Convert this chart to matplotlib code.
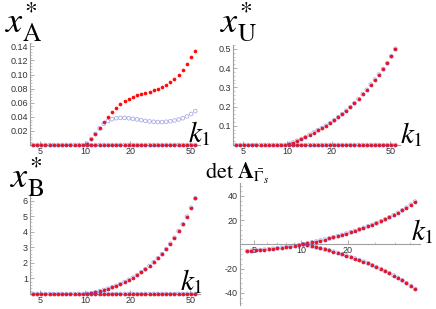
import matplotlib
matplotlib.use("Agg")
import matplotlib.pyplot as plt
from matplotlib.ticker import FixedLocator, NullFormatter, AutoMinorLocator, LogLocator

plt.rcParams["mathtext.fontset"] = "stix"
plt.rcParams["font.family"] = ["Liberation Sans", "DejaVu Sans"]

W, H = 436, 309

# k1 grid (log spaced sweep)
k1 = [4.50, 4.80, 5.11, 5.45, 5.81, 6.19, 6.60, 7.03, 7.49, 7.99,
      8.51, 9.07, 9.67, 10.30, 10.98, 11.70, 12.47, 13.29, 14.17, 15.10,
      16.09, 17.15, 18.28, 19.48, 20.76, 22.12, 23.58, 25.13, 26.78, 28.54,
      30.42, 32.42, 34.55, 36.82, 39.24, 41.82, 44.57, 47.50, 50.62, 53.95]
onset = 13  # nontrivial branch starts at k1[13]
k1_branch = k1[onset:]
zero_branch = [0.0] * len(k1)

# x*_A nontrivial branch, red (filled) and blue (open)
xA_red = [0.002, 0.0085, 0.0157, 0.0238, 0.0323, 0.0398, 0.0465, 0.0531, 0.0583,
          0.0626, 0.0659, 0.0687, 0.0712, 0.0730, 0.0744, 0.0758, 0.0778, 0.0797,
          0.0821, 0.0850, 0.0892, 0.0939, 0.1000, 0.1067, 0.1148, 0.1242, 0.1338]
xA_blue = [0.002, 0.0085, 0.0157, 0.0235, 0.0300, 0.0340, 0.0365, 0.0380, 0.0385,
           0.0385, 0.0380, 0.0372, 0.0363, 0.0353, 0.0343, 0.0335, 0.0330, 0.0325,
           0.0325, 0.0330, 0.0337, 0.0348, 0.0362, 0.0380, 0.0405, 0.0440, 0.0480]

# x*_U nontrivial branch
xU = [0.006, 0.013, 0.022, 0.031, 0.041, 0.053, 0.065, 0.076, 0.088, 0.100,
      0.114, 0.128, 0.145, 0.161, 0.178, 0.197, 0.218, 0.239, 0.265, 0.287,
      0.314, 0.340, 0.366, 0.395, 0.426, 0.461, 0.500]

# x*_B nontrivial branch
xB = [0.01, 0.045, 0.11, 0.17, 0.26, 0.34, 0.43, 0.53, 0.64, 0.77,
      0.90, 1.05, 1.22, 1.40, 1.59, 1.80, 2.04, 2.30, 2.57, 2.89,
      3.23, 3.62, 4.05, 4.48, 4.97, 5.55, 6.15]

# det A, trivial branch (whole sweep) and nontrivial branch
det_triv = [-5.6, -5.3, -5.0, -4.7, -4.4, -4.1, -3.7, -3.3, -2.9, -2.4,
            -1.9, -1.3, -0.7, 0.0, 0.8, 1.5, 2.3, 3.1, 3.9, 4.8,
            5.7, 6.7, 7.7, 8.8, 9.9, 11.0, 12.2, 13.4, 14.7, 16.0,
            17.4, 18.9, 20.5, 22.2, 24.0, 25.9, 28.0, 30.2, 32.6, 35.2]
det_nontriv = [0.0, -0.8, -1.6, -2.4, -3.3, -4.2, -5.1, -6.1, -7.1, -8.2,
               -9.3, -10.5, -11.7, -13.0, -14.3, -15.7, -17.2, -18.7, -20.3, -22.0,
               -23.8, -25.7, -27.7, -29.8, -32.0, -34.3, -36.8]

RED = "#ff0a0a"
BLUE = "#5a5ad2"
AXC = "#a0a0a0"


def px_axes(x0, x1, y0, y1):
    return fig.add_axes([x0 / W, 1 - y1 / H, (x1 - x0) / W, (y1 - y0) / H])


def style(ax, xlim, ylim, yticks):
    ax.set_xscale("log")
    ax.set_xlim(*xlim)
    ax.set_ylim(*ylim)
    for s in ["top", "right"]:
        ax.spines[s].set_visible(False)
    ax.spines["bottom"].set_position(("data", 0))
    for s in ["left", "bottom"]:
        ax.spines[s].set_color(AXC)
        ax.spines[s].set_linewidth(0.8)
    ax.xaxis.set_major_locator(FixedLocator([5, 10, 20, 50]))
    ax.xaxis.set_major_formatter(plt.FuncFormatter(lambda v, p: "%d" % v))
    ax.xaxis.set_minor_locator(LogLocator(base=10, subs=range(2, 10), numticks=20))
    ax.xaxis.set_minor_formatter(NullFormatter())
    ax.yaxis.set_major_locator(FixedLocator(yticks))
    ax.yaxis.set_minor_locator(AutoMinorLocator(5))
    ax.tick_params(which="major", direction="in", length=3, width=0.6, color=AXC,
                   labelsize=6.5, labelcolor="#333333", pad=1.5)
    ax.tick_params(which="minor", direction="in", length=1.5, width=0.4, color=AXC)
    ax.patch.set_alpha(0)


def dots(ax, xr, yr, xb, yb):
    # filled red dots, translucent open blue circles drawn over them
    ax.scatter(xr, yr, s=7, color=RED, linewidths=0, zorder=3, clip_on=False)
    ax.scatter(xb, yb, s=7, facecolors="none", edgecolors=BLUE, linewidths=0.6,
               alpha=0.5, zorder=4, clip_on=False)


fig = plt.figure(figsize=(W / 100, H / 100), dpi=100)

# top-left: x*_A
ax1 = px_axes(30, 200, 43, 145)
style(ax1, (4.3, 58), (0, 0.1447), [0.02, 0.04, 0.06, 0.08, 0.10, 0.12, 0.14])
ax1.yaxis.set_major_formatter(plt.FuncFormatter(lambda v, p: "%.2f" % v))
dots(ax1, k1, zero_branch, k1, zero_branch)
dots(ax1, k1_branch, xA_red, k1_branch, xA_blue)

# top-right: x*_U
ax2 = px_axes(233, 400, 45, 145)
style(ax2, (4.3, 58), (0, 0.52), [0.1, 0.2, 0.3, 0.4, 0.5])
ax2.yaxis.set_major_formatter(plt.FuncFormatter(lambda v, p: "%.1f" % v))
dots(ax2, k1, zero_branch, k1, zero_branch)
dots(ax2, k1_branch, xU, k1_branch, xU)

# bottom-left: x*_B
ax3 = px_axes(30, 200, 194, 294)
style(ax3, (4.3, 58), (0, 6.43), [1, 2, 3, 4, 5, 6])
ax3.yaxis.set_major_formatter(plt.FuncFormatter(lambda v, p: "%d" % v))
dots(ax3, k1, zero_branch, k1, zero_branch)
dots(ax3, k1_branch, xB, k1_branch, xB)

# bottom-right: det A
ax4 = px_axes(240, 420, 183, 305)
style(ax4, (4.05, 58), (-50, 50.5), [-40, -20, 20, 40])
ax4.xaxis.set_major_locator(FixedLocator([5, 10, 20]))
ax4.yaxis.set_major_formatter(plt.FuncFormatter(lambda v, p: "%d" % v))
dots(ax4, k1, det_triv, k1, det_triv)
dots(ax4, k1_branch, det_nontriv, k1_branch, det_nontriv)

# panel labels
def label(x, y, s, size):
    fig.text(x / W, 1 - y / H, s, fontsize=size, va="baseline", ha="left")

label(5, 32, r"$x^{*}_{\mathrm{A}}$", 26)
label(220, 32, r"$x^{*}_{\mathrm{U}}$", 26)
label(10, 187, r"$x^{*}_{\mathrm{B}}$", 26)
label(205, 179, r"$\mathrm{det}\ \mathbf{A}_{\bar{\Gamma}_{s}}$", 16)

label(188, 142, r"$k_1$", 21)
label(400, 143, r"$k_1$", 21)
label(180, 290, r"$k_1$", 21)
label(411, 240, r"$k_1$", 21)

fig.savefig("out.png", dpi=100)
